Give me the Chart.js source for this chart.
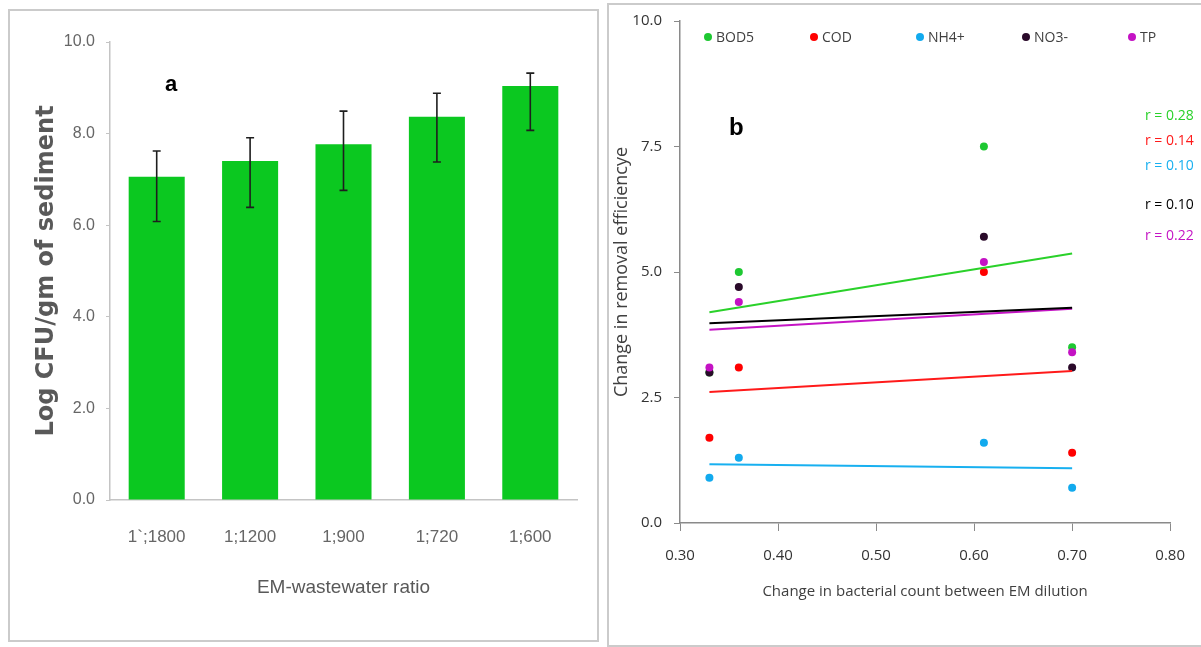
<!DOCTYPE html>
<html>
<head>
<meta charset="utf-8">
<script src="https://cdn.jsdelivr.net/npm/chart.js@4.4.1/dist/chart.umd.min.js"></script>
<style>
  body { margin: 0; width: 1201px; height: 647px; overflow: hidden; position: relative; background: #fff; }
  .frame { position: absolute; box-sizing: border-box; border: 2px solid #cbcbcb; }
  canvas { position: absolute; top: 0; }
  .tag { position: absolute; font: bold 22px "Liberation Sans", Arial, sans-serif; color: #000; line-height: 1; }
  #legendB { position: absolute; left: 704px; top: 27px; display: flex; font: 14px "Open Sans", sans-serif; color: #404040; }
  #legendB .item { width: 106px; display: flex; align-items: center; white-space: nowrap; }
  #legendB .dot { width: 8px; height: 8px; border-radius: 50%; margin-right: 4px; }
  .rlab { position: absolute; left: 1145px; font: 14px "Open Sans", sans-serif; white-space: nowrap; line-height: 1; }
</style>
</head>
<body>
<div class="frame" style="left:8px;top:9px;width:591px;height:633px"></div>
<div class="frame" style="left:607px;top:3px;width:610px;height:644px"></div>
<canvas id="chartA" width="600" height="647" style="left:0"></canvas>
<canvas id="chartB" width="601" height="647" style="left:600px"></canvas>
<div class="tag" style="left:165px;top:73px">a</div>
<div class="tag" style="left:729px;top:115px;font-size:24px">b</div>
<div id="legendB"></div>
<div id="rLabels"></div>
<script>
// panel a: bacterial count per dilution
const ratioLabels = ['1`;1800', '1;1200', '1;900', '1;720', '1;600'];
const logCfu = [7.06, 7.40, 7.77, 8.37, 9.04];
const errUpper = [7.62, 7.91, 8.49, 8.88, 9.32];
const errLower = [6.08, 6.39, 6.76, 7.38, 8.07];
const ticksA = [0, 2, 4, 6, 8, 10];

// panel b: change in removal efficiency vs change in bacterial count
const countChange = [0.33, 0.36, 0.61, 0.70];
const bod5 = [3.0, 5.0, 7.5, 3.5];
const cod = [1.7, 3.1, 5.0, 1.4];
const nh4 = [0.9, 1.3, 1.6, 0.7];
const no3 = [3.0, 4.7, 5.7, 3.1];
const tp = [3.1, 4.4, 5.2, 3.4];
const trendX = [0.33, 0.70];
const bod5Trend = [4.20, 5.37];
const codTrend = [2.61, 3.03];
const nh4Trend = [1.17, 1.09];
const no3Trend = [3.98, 4.29];
const tpTrend = [3.85, 4.27];
const rValues = ['0.28', '0.14', '0.10', '0.10', '0.22'];
const ticksBY = [0, 2.5, 5, 7.5, 10];
const ticksBX = [0.3, 0.4, 0.5, 0.6, 0.7, 0.8];

const seriesB = [
  { name: 'BOD5', pts: bod5, trend: bod5Trend, dot: '#1ec832', line: '#2ad12a' },
  { name: 'COD', pts: cod, trend: codTrend, dot: '#ff0000', line: '#ff1a1a' },
  { name: 'NH4+', pts: nh4, trend: nh4Trend, dot: '#12aaee', line: '#18b0f0' },
  { name: 'NO3-', pts: no3, trend: no3Trend, dot: '#2a0a2a', line: '#000000' },
  { name: 'TP', pts: tp, trend: tpTrend, dot: '#c412c4', line: '#c414c4' }
];
const rTops = [108, 133, 158, 197, 228];

const pair = (xs, ys) => xs.map((x, i) => ({ x: x, y: ys[i] }));
const setTicks = arr => scale => { scale.ticks = arr.map(v => ({ value: v })); };

const errorBars = {
  id: 'errorBars',
  afterDatasetsDraw(chart) {
    const ctx = chart.ctx;
    const y = chart.scales.y;
    const meta = chart.getDatasetMeta(0);
    ctx.save();
    ctx.strokeStyle = '#1e1e1e';
    ctx.lineWidth = 1.6;
    meta.data.forEach((bar, i) => {
      const top = y.getPixelForValue(errUpper[i]);
      const bot = y.getPixelForValue(errLower[i]);
      ctx.beginPath();
      ctx.moveTo(bar.x, top); ctx.lineTo(bar.x, bot);
      ctx.moveTo(bar.x - 4, top); ctx.lineTo(bar.x + 4, top);
      ctx.moveTo(bar.x - 4, bot); ctx.lineTo(bar.x + 4, bot);
      ctx.stroke();
    });
    ctx.restore();
  }
};

const sansA = '"Liberation Sans", Arial, sans-serif';

new Chart(document.getElementById('chartA'), {
  type: 'bar',
  data: {
    labels: ratioLabels,
    datasets: [{
      data: logCfu,
      backgroundColor: '#0bc820',
      barPercentage: 0.6,
      categoryPercentage: 1.0
    }]
  },
  options: {
    responsive: false,
    animation: false,
    layout: { padding: { top: 42, right: 23, left: 0, bottom: 0 } },
    plugins: { legend: { display: false }, tooltip: { enabled: false } },
    scales: {
      x: {
        grid: { display: false, drawTicks: false },
        border: { display: true, color: '#c4c4c4', width: 1.5 },
        ticks: { color: '#666666', font: { family: sansA, size: 17 }, padding: 27 },
        title: { display: true, text: 'EM-wastewater ratio', color: '#595959',
                 font: { family: sansA, size: 19 }, padding: { bottom: 48 } },
        afterFit: s => { s.height = 147; }
      },
      y: {
        min: 0, max: 10,
        afterBuildTicks: setTicks(ticksA),
        grid: { display: true, drawOnChartArea: false, drawTicks: true, tickLength: 4, color: '#c4c4c4' },
        border: { display: true, color: '#c4c4c4', width: 1.5 },
        ticks: { color: '#666666', font: { family: sansA, size: 16 }, padding: 11,
                 callback: v => Number(v).toFixed(1) },
        title: { display: true, text: 'Log CFU/gm of sediment', color: '#595959',
                 font: { family: '"DejaVu Sans", sans-serif', size: 24, weight: 'bold' }, padding: { top: 32 } },
        afterFit: s => { s.width = 110; }
      }
    }
  },
  plugins: [errorBars]
});

const datasetsB = [];
seriesB.forEach((s, i) => {
  datasetsB.push({
    type: 'line',
    data: pair(trendX, s.trend),
    borderColor: s.line,
    borderWidth: 2,
    pointRadius: 0,
    fill: false,
    order: 0
  });
  datasetsB.push({
    type: 'scatter',
    data: pair(countChange, s.pts),
    backgroundColor: s.dot,
    borderColor: s.dot,
    pointRadius: 4,
    borderWidth: 0,
    order: 5 - i
  });
});

const fontB = '"Open Sans", sans-serif';
new Chart(document.getElementById('chartB'), {
  type: 'scatter',
  data: { datasets: datasetsB },
  options: {
    responsive: false,
    animation: false,
    layout: { padding: { top: 20, right: 20, left: 0, bottom: 0 } },
    plugins: { legend: { display: false }, tooltip: { enabled: false } },
    scales: {
      x: {
        type: 'linear', min: 0.3, max: 0.8,
        afterBuildTicks: setTicks(ticksBX),
        grid: { display: true, drawOnChartArea: false, drawTicks: true, tickLength: 8, color: '#8a8a8a' },
        border: { display: true, color: '#8a8a8a', width: 1.5 },
        ticks: { color: '#333333', font: { family: fontB, size: 15 }, padding: 16,
                 callback: v => Number(v).toFixed(2) },
        title: { display: true, text: 'Change in bacterial count between EM dilution', color: '#404040',
                 font: { family: fontB, size: 15 }, padding: { bottom: 46 } },
        afterFit: s => { s.height = 124; }
      },
      y: {
        min: 0, max: 10,
        afterBuildTicks: setTicks(ticksBY),
        grid: { display: true, drawOnChartArea: false, drawTicks: true, tickLength: 6, color: '#8a8a8a' },
        border: { display: true, color: '#8a8a8a', width: 1.5 },
        ticks: { color: '#333333', font: { family: fontB, size: 15 }, padding: 12,
                 callback: v => Number(v).toFixed(1) },
        title: { display: true, text: 'Change in removal efficiencye', color: '#404040',
                 font: { family: fontB, size: 18 }, padding: { top: 11 } },
        afterFit: s => { s.width = 80; }
      }
    }
  }
});

// legend and r labels for panel b
const legendB = document.getElementById('legendB');
const rBox = document.getElementById('rLabels');
seriesB.forEach((s, i) => {
  const item = document.createElement('div');
  item.className = 'item';
  item.innerHTML = '<span class="dot" style="background:' + s.dot + '"></span><span>' + s.name + '</span>';
  legendB.appendChild(item);
  const r = document.createElement('div');
  r.className = 'rlab';
  r.style.top = rTops[i] + 'px';
  r.style.color = s.line;
  r.textContent = 'r = ' + rValues[i];
  rBox.appendChild(r);
});
</script>
</body>
</html>
